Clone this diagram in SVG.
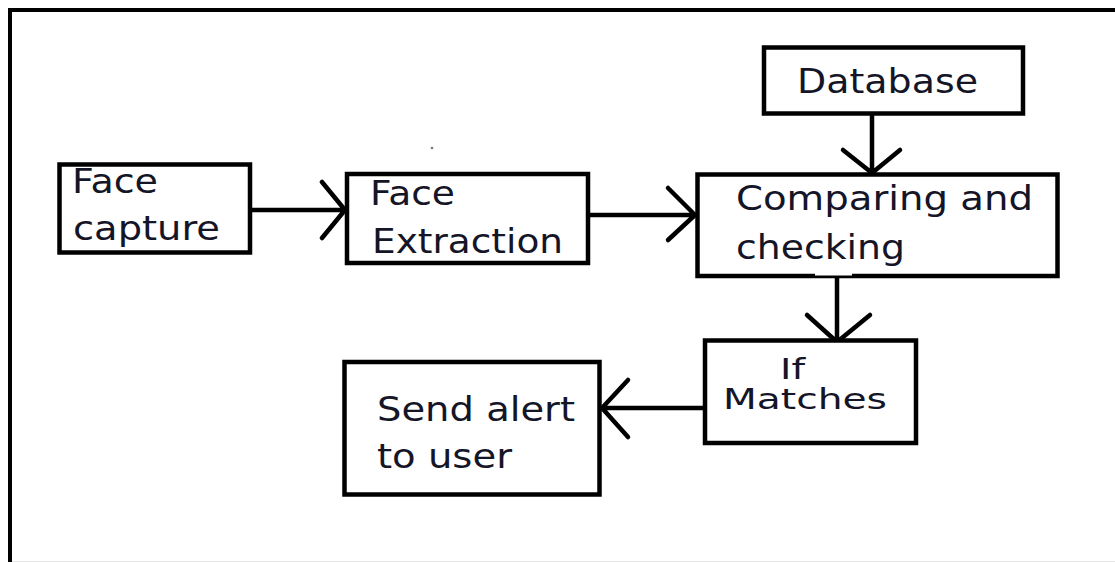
<svg xmlns="http://www.w3.org/2000/svg" width="1115" height="562" viewBox="0 0 1115 562">
<style>
.box{fill:#fff;stroke:#000;stroke-width:4.5}
.t{font-family:"DejaVu Sans","Liberation Sans",sans-serif;font-size:33px;fill:#151528}
.s{font-size:28px}
.c{fill:none;stroke:#000;stroke-width:4.5;stroke-linecap:round;stroke-linejoin:round}
</style>
<rect width="1115" height="562" fill="#fff"/>
<g id="frame">
<path d="M10 562 V10 H1115" fill="none" stroke="#000" stroke-width="4"/>
<line x1="12" y1="561.5" x2="1115" y2="561.5" stroke="#e6e6e6" stroke-width="1"/>
</g>
<g id="connectors">
<path class="c" d="M250 210 H345 M322 182 L345 210 L322 238"/>
<path class="c" d="M588 215 H695 M668 188 L695 215 L668 240"/>
<path class="c" d="M872 114 V172 M843 150 L872 173 L900 150"/>
<path class="c" d="M837 277 V340 M807 315 L837 342 L870 315"/>
<path class="c" d="M705 408 H602 M628 380 L602 408 L628 437"/>
</g>
<g id="face-capture">
<rect class="box" x="59.5" y="164.5" width="190.5" height="88"/>
<text class="t" x="72" y="193" textLength="86" lengthAdjust="spacingAndGlyphs">Face</text>
<text class="t" x="73" y="240" textLength="147" lengthAdjust="spacingAndGlyphs">capture</text>
</g>
<g id="face-extraction">
<rect class="box" x="347" y="174" width="241" height="89"/>
<text class="t" x="370" y="205" textLength="85" lengthAdjust="spacingAndGlyphs">Face</text>
<text class="t" x="372" y="253" textLength="191" lengthAdjust="spacingAndGlyphs">Extraction</text>
</g>
<g id="database">
<rect class="box" x="764" y="47.5" width="259" height="66"/>
<text class="t" x="797" y="93" textLength="181" lengthAdjust="spacingAndGlyphs" style="font-size:34px">Database</text>
</g>
<g id="comparing">
<rect class="box" x="697.5" y="174.5" width="360" height="101.5"/>
<rect x="815" y="272" width="37" height="3.5" fill="#fff"/>
<text class="t" x="736" y="210" textLength="297" lengthAdjust="spacingAndGlyphs">Comparing and</text>
<text class="t" x="736" y="259" textLength="169" lengthAdjust="spacingAndGlyphs">checking</text>
</g>
<g id="if-matches">
<rect class="box" x="705" y="340.5" width="211" height="102.5"/>
<text class="t s" x="780" y="379" textLength="25" lengthAdjust="spacingAndGlyphs">If</text>
<text class="t s" x="723" y="409" textLength="164" lengthAdjust="spacingAndGlyphs">Matches</text>
</g>
<g id="send-alert">
<rect class="box" x="344.5" y="362" width="255" height="132.5"/>
<text class="t" x="377" y="421" textLength="198" lengthAdjust="spacingAndGlyphs">Send alert</text>
<text class="t" x="377" y="468" textLength="135" lengthAdjust="spacingAndGlyphs">to user</text>
</g>
<circle cx="432" cy="148" r="1.3" fill="#777"/>
</svg>
